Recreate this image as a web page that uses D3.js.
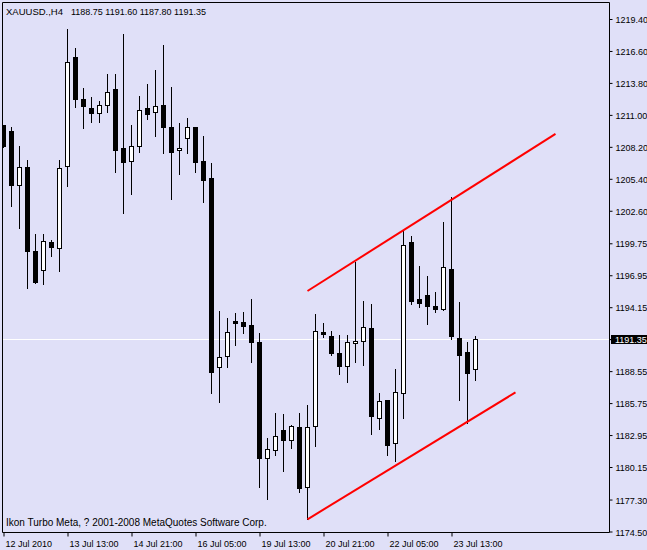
<!DOCTYPE html>
<html><head><meta charset="utf-8">
<script src="https://cdn.jsdelivr.net/npm/d3@7"></script>
<style>
html,body{margin:0;padding:0;background:#e0e0f8;}
svg{display:block;}
text{font-family:"Liberation Sans",Arial,sans-serif;font-size:9px;fill:#000;}
</style></head><body>
<svg id="c" width="647" height="550"></svg>
<script>
// ---- data (XAUUSD H4) ----
const symbolLabel = "XAUUSD.,H4";
const openP  = [1210.10,1209.59,1204.88,1206.43,1199.07,1197.44,1199.86,1199.36,1206.55,1216.07,
                1212.39,1211.60,1211.19,1211.89,1213.27,1208.10,1206.99,1208.30,1211.60,1211.23,
                1211.87,1209.94,1207.88,1209.00,1209.94,1206.96,1205.44,1188.89,1189.85,1192.97,
                1192.85,1192.59,1191.10,1180.91,1181.61,1183.39,1182.49,1183.65,1178.37,1183.72,
                1191.98,1191.63,1190.14,1189.03,1190.99,1191.22,1192.30,1184.42,1185.99,1182.28,
                1186.61,1199.86,1194.87,1195.22,1194.26,1194.02,1197.50,1191.45,1190.23,1188.75];
const highP  = [1210.15,1209.91,1208.27,1207.05,1200.56,1200.56,1200.04,1207.05,1218.52,1216.86,
                1213.35,1212.57,1212.22,1214.58,1214.58,1218.09,1210.11,1212.65,1213.71,1214.93,
                1217.12,1213.44,1210.29,1210.73,1209.94,1209.15,1206.76,1193.82,1193.20,1193.64,
                1193.70,1194.87,1191.89,1182.72,1184.85,1184.79,1183.86,1184.88,1185.58,1193.55,
                1192.77,1192.09,1191.71,1191.71,1198.11,1194.67,1194.43,1186.66,1185.99,1188.74,
                1200.91,1200.39,1197.76,1196.88,1195.48,1201.62,1203.81,1194.61,1191.10,1191.60];
const lowP   = [1208.20,1203.02,1201.12,1195.86,1196.27,1196.21,1198.66,1197.35,1204.80,1211.72,
                1209.88,1210.40,1210.40,1211.28,1206.02,1202.43,1204.09,1207.77,1210.67,1209.18,
                1207.70,1203.67,1205.85,1207.69,1206.02,1203.39,1186.66,1185.87,1188.94,1190.81,
                1191.86,1189.38,1178.42,1177.32,1181.18,1179.83,1181.79,1177.99,1175.57,1182.02,
                1191.54,1189.96,1188.30,1187.62,1189.38,1189.11,1183.07,1183.51,1181.23,1180.70,
                1184.40,1194.47,1194.19,1192.71,1193.76,1193.93,1191.39,1186.05,1184.03,1187.80];
const closeP = [1208.30,1204.88,1206.43,1199.10,1196.36,1199.92,1199.45,1206.32,1215.61,1212.42,
                1211.80,1211.19,1211.87,1213.00,1207.95,1206.90,1208.27,1211.43,1211.10,1211.75,
                1209.96,1207.77,1208.07,1209.94,1206.90,1205.32,1188.45,1189.76,1191.95,1192.79,
                1192.48,1191.13,1180.97,1181.70,1182.84,1182.54,1183.74,1178.34,1183.65,1192.04,
                1191.80,1190.14,1189.03,1191.10,1191.19,1192.39,1184.64,1185.91,1182.10,1186.69,
                1199.57,1194.72,1194.54,1194.28,1194.02,1197.65,1191.65,1189.99,1188.41,1191.35];
const xTickIndex  = [0, 8, 16, 24, 32, 40, 48, 56];
const xTickLabels = ["12 Jul 2010","13 Jul 13:00","14 Jul 21:00","16 Jul 05:00",
                     "19 Jul 13:00","20 Jul 21:00","22 Jul 05:00","23 Jul 13:00"];
const yTickValues = [1219.40,1216.60,1213.80,1211.00,1208.20,1205.40,1202.60,1199.75,1196.95,
                     1194.15,1191.35,1188.55,1185.75,1182.95,1180.15,1177.30,1174.50];
const upperChannel = [[38, 1195.57], [69, 1209.33]];
const lowerChannel = [[38, 1175.57], [64, 1186.69]];
const copyrightText = "Ikon Turbo Meta, ? 2001-2008 MetaQuotes Software Corp.";

// ---- chart ----
const svg = d3.select("#c");
const L = 2.5, T = 2.5, R = 609.5, B = 532.5;
const x = d3.scaleLinear().domain([0, 1]).range([3.5, 11.5]);
const y = d3.scaleLinear().domain([1174.50, 1219.40]).range([531.5, 19]);
const cy = v => Math.round(y(v)) + 0.5;
const fmt = d3.format(".2f");
const n = closeP.length;
const candles = d3.range(n).map(i => ({i, o: openP[i], h: highP[i], l: lowP[i], c: closeP[i]}));
const last = candles[n - 1];

svg.append("rect").attr("width", 647).attr("height", 550).attr("fill", "#e0e0f8");

svg.append("defs").append("clipPath").attr("id", "plot")
  .append("rect").attr("x", 3).attr("y", 3).attr("width", 606).attr("height", 529);

const g = svg.append("g").attr("clip-path", "url(#plot)");

// last price line
g.append("line").attr("x1", L).attr("x2", R)
  .attr("y1", cy(last.c)).attr("y2", cy(last.c))
  .attr("stroke", "#ffffff").attr("stroke-width", 1);

const cg = g.selectAll("g.candle").data(candles).join("g").attr("class", "candle");
cg.append("line")
  .attr("x1", d => x(d.i)).attr("x2", d => x(d.i))
  .attr("y1", d => cy(d.h) - 0.5).attr("y2", d => cy(d.l) + 0.5)
  .attr("stroke", "#000").attr("stroke-width", 1);
cg.append("rect")
  .attr("x", d => x(d.i) - 2)
  .attr("width", 4)
  .attr("y", d => cy(Math.max(d.o, d.c)))
  .attr("height", d => Math.max(0, cy(Math.min(d.o, d.c)) - cy(Math.max(d.o, d.c))))
  .attr("fill", d => d.c >= d.o ? "#ffffff" : "#000000")
  .attr("stroke", "#000").attr("stroke-width", 1);

// channel lines
const ln = d3.line().x(d => x(d[0])).y(d => y(d[1]));
[upperChannel, lowerChannel].forEach(seg => {
  svg.append("path").attr("d", ln(seg)).attr("fill", "none")
    .attr("stroke", "#ff0000").attr("stroke-width", 2);
});

// frame
svg.append("path")
  .attr("d", `M${L},${B}V${T}H${R}V${B}H${L}`)
  .attr("fill", "none").attr("stroke", "#000").attr("stroke-width", 1);

// y axis
const yAxis = svg.append("g").attr("transform", `translate(${R},0)`)
  .call(d3.axisRight(y).tickValues(yTickValues).tickFormat(fmt).tickSize(3).tickPadding(3));
yAxis.select(".domain").remove();
yAxis.selectAll(".tick line").attr("stroke", "#000");
yAxis.selectAll(".tick text").attr("font-family", "Liberation Sans, Arial, sans-serif")
  .attr("font-size", 9).attr("fill", "#000").attr("dy", "0.4em");

// x axis
const xAxis = svg.append("g").attr("transform", `translate(0,${B})`)
  .call(d3.axisBottom(x).tickValues(xTickIndex)
    .tickFormat((d, i) => xTickLabels[i]).tickSize(4).tickPadding(4));
xAxis.select(".domain").remove();
xAxis.selectAll(".tick line").attr("stroke", "#000");
xAxis.selectAll(".tick text").attr("text-anchor", "start").attr("x", 1.5)
  .attr("font-family", "Liberation Sans, Arial, sans-serif")
  .attr("font-size", 9).attr("fill", "#000");

// last price tag
const tagY = Math.round(y(last.c));
svg.append("line").attr("x1", R).attr("x2", R + 3).attr("y1", tagY + 0.5).attr("y2", tagY + 0.5).attr("stroke", "#000");
svg.append("rect").attr("x", 611).attr("y", tagY - 4).attr("width", 36).attr("height", 9).attr("fill", "#000");
svg.append("text").attr("x", 615).attr("y", tagY + 4).style("fill", "#fff")
  .text(fmt(last.c));

// title & copyright
svg.append("text").attr("x", 6).attr("y", 15).style("font-size", "9.5px").text(symbolLabel);
svg.append("text").attr("x", 71).attr("y", 15)
  .text([last.o, last.h, last.l, last.c].map(fmt).join(" "));
svg.append("text").attr("x", 6).attr("y", 526).style("font-size", "10px").text(copyrightText);
</script>
</body></html>
